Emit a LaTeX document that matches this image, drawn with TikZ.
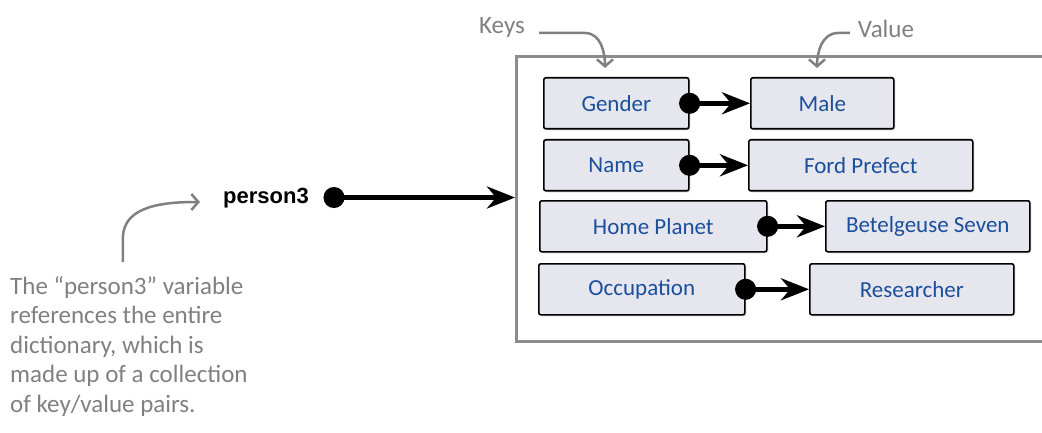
\documentclass[tikz,border=0pt]{standalone}
\usepackage{fontspec}
\setmainfont{Carlito}
\newfontfamily\labelfont{Liberation Sans}
\usepackage{tikz}
\usetikzlibrary{arrows.meta,positioning,shadows}
\definecolor{dkfill}{HTML}{E6E6EF}
\definecolor{dkblue}{HTML}{1B4F9B}
\definecolor{dkgray}{HTML}{808080}
\definecolor{dkframe}{HTML}{8C8C8C}
\tikzset{
  entry/.style={rectangle, rounded corners=2pt, draw=black, line width=1.6pt, fill=dkfill,
                drop shadow={shadow xshift=1.5pt,shadow yshift=-1.5pt,fill=black!30},
                text=dkblue, font=\fontsize{23}{27}\selectfont,
                minimum height=51pt, inner sep=0pt, anchor=north west},
  link/.style={{Circle[length=21pt]}-{Stealth[length=28pt,width=22pt,inset=9pt]},
               line width=5pt, shorten <=-10.5pt},
  note/.style={-{Straight Barb[length=7pt,width=16pt]}, draw=dkgray, line width=2.5pt},
  notetext/.style={text=dkgray, font=\fontsize{25}{29.5}\selectfont, inner sep=0pt},
}
\begin{document}
\begin{tikzpicture}[x=1pt,y=1pt]
\useasboundingbox (0,0) rectangle (1042,-433);
\clip (0,0) rectangle (1042,-433);

% ---------- dictionary frame ----------
\node[draw=dkframe,line width=3pt,minimum width=550pt,minimum height=285pt,
      inner sep=0pt,anchor=north west] (dict) at (515,-55) {};

% ---------- key/value pairs ----------
\node[entry,minimum width=145pt] (kGender) at (543,-77) {Gender};
\node[entry,minimum width=143pt] (vGender) at (750,-77) {Male};
\node[entry,minimum width=145pt] (kName) at (543,-139) {Name};
\node[entry,minimum width=224pt] (vName) at (748,-139) {Ford Prefect};
\node[entry,minimum width=227pt] (kPlanet) at (539,-200) {Home Planet};
\node[entry,minimum width=204pt] (vPlanet) at (825,-200) {Betelgeuse Seven};
\node[entry,minimum width=206pt] (kJob) at (538,-263) {Occupation};
\node[entry,minimum width=204pt] (vJob) at (809,-263) {Researcher};
\draw[link] (kGender.east) -- (vGender.west);
\draw[link] (kName.east) -- (vName.west);
\draw[link] (kPlanet.east) -- (vPlanet.west);
\draw[link] (kJob.east) -- (vJob.west);

% ---------- variable ----------
\node[font={\labelfont\bfseries\fontsize{22}{26}\selectfont},anchor=east,inner sep=0pt]
  (person3) at (309,-198) {person3};
\coordinate (p3dot) at (334,-197.5);
\draw[link] (p3dot) -- (dict.west |- p3dot);

% ---------- annotations ----------
\node[notetext] (keys) at (502,-27) {Keys};
\node[notetext] (value) at (886,-29) {Value};
\coordinate (keytip) at (605,-68);
\coordinate (valtip) at (817,-68);
\draw[note] ([shift={(14,-6)}]keys.east) -- (585,-33) to[out=0,in=90] (keytip);
\draw[note] ([shift={(-8,-4)}]value.west) -- (838,-33) to[out=180,in=90] (valtip);

\node[notetext,anchor=north west,align=left] (dictnote) at (10,-276)
  {The “person3” variable\\references the entire\\dictionary, which is\\made up of a collection\\of key/value pairs.};
\coordinate (p3tip) at (200,-202);
\draw[note] ([shift={(-6,14)}]dictnote.north) -- ++(0,24) to[out=90,in=180] (p3tip);
\end{tikzpicture}
\end{document}
